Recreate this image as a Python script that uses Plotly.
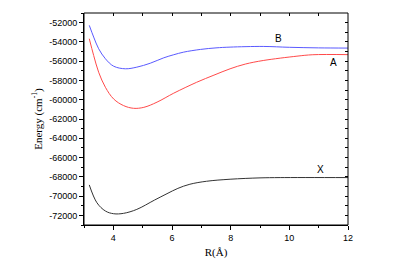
import plotly.graph_objects as go

# Data
r_B = [3.18, 3.33, 3.5, 3.73, 4.01, 4.41, 4.8, 5.26, 5.72, 6.06, 6.4, 6.97, 7.5, 7.98, 9.11, 10.0, 11.0, 12.0]
e_B = [-52280, -53500, -54710, -55750, -56520, -56790, -56620, -56210, -55650, -55330, -55060, -54780, -54620, -54540, -54470, -54560, -54620, -54640]

r_A = [3.18, 3.33, 3.5, 3.73, 4.01, 4.35, 4.69, 5.04, 5.49, 6.06, 6.84, 7.43, 7.98, 8.5, 9.11, 10.26, 10.8, 12.0]
e_A = [-53670, -55410, -57150, -58710, -59920, -60610, -60890, -60790, -60250, -59320, -58190, -57450, -56790, -56300, -55930, -55480, -55330, -55320]

r_X = [3.18, 3.44, 3.73, 4.01, 4.35, 4.8, 5.4, 5.83, 6.2, 6.61, 7.18, 7.98, 9.0, 9.69, 12.0]
e_X = [-68840, -70690, -71550, -71830, -71790, -71380, -70420, -69750, -69200, -68770, -68460, -68250, -68110, -68080, -68080]

labels = ["B", "A", "X"]
label_x = [9.63, 11.49, 11.05]
label_y = [-53670, -56100, -67280]

x_range = [3, 12]
y_range = [-73000, -51000]
x_ticks = [4, 6, 8, 10, 12]
x_ticktext = ["4", "6", "8", "10", "12"]
y_ticks = [-72000, -70000, -68000, -66000, -64000, -62000, -60000, -58000, -56000, -54000, -52000]
y_ticktext = ["-72000", "-70000", "-68000", "-66000", "-64000", "-62000", "-60000", "-58000", "-56000", "-54000", "-52000"]

line_kw = dict(width=1, shape="spline", smoothing=1)
fig = go.Figure()
fig.add_trace(go.Scatter(x=r_B, y=e_B, mode="lines", line=dict(color="#5a5aff", **line_kw), showlegend=False))
fig.add_trace(go.Scatter(x=r_A, y=e_A, mode="lines", line=dict(color="#ff4a4a", **line_kw), showlegend=False))
fig.add_trace(go.Scatter(x=r_X, y=e_X, mode="lines", line=dict(color="#333333", **line_kw), showlegend=False,
                         xaxis="x2", yaxis="y2"))

for t, xx, yy in zip(labels, label_x, label_y):
    fig.add_annotation(x=xx, y=yy, text=t, showarrow=False,
                       font=dict(family="Liberation Sans", size=10, color="black"))

# plot frame
fig.add_shape(type="rect", xref="paper", yref="paper", x0=0, x1=1, y0=0, y1=1,
              line=dict(color="black", width=1), layer="above")

tickfont = dict(family="Liberation Sans", size=9, color="black")
titlefont = dict(family="Liberation Serif", size=11, color="black")

fig.update_layout(
    width=415, height=268,
    margin=dict(l=84, r=67, t=13, b=43),
    paper_bgcolor="white", plot_bgcolor="white",
    xaxis=dict(range=x_range, tickmode="array", tickvals=x_ticks, ticktext=x_ticktext,
               ticks="outside", ticklen=4, tickwidth=1,
               tickcolor="black", showline=True, linecolor="black", linewidth=1,
               showgrid=False, zeroline=False, tickfont=tickfont,
               minor=dict(dtick=1, tick0=0, ticks="outside", ticklen=2, tickcolor="black"),
               title=dict(text="R(Å)", font=titlefont, standoff=6)),
    yaxis=dict(range=y_range, tickmode="array", tickvals=y_ticks, ticktext=y_ticktext,
               ticks="outside", ticklen=4, tickwidth=1,
               tickcolor="black", showline=True, linecolor="black", linewidth=1,
               showgrid=False, zeroline=False, tickfont=tickfont,
               minor=dict(dtick=1000, tick0=0, ticks="outside", ticklen=2, tickcolor="black"),
               title=dict(text="Energy (cm<sup>-1</sup>)", font=titlefont, standoff=4)),
    xaxis2=dict(overlaying="x", anchor="y2", side="top", range=x_range, dtick=1, tick0=0, ticks="inside",
                ticklen=3, tickcolor="black", showline=False,
                showticklabels=False, showgrid=False, zeroline=False),
    yaxis2=dict(overlaying="y", anchor="x2", side="right", range=y_range, dtick=1000, tick0=0, ticks="inside",
                ticklen=3, tickcolor="black", showline=False,
                showticklabels=False, showgrid=False, zeroline=False),
)

fig.write_html("out.html", config={"displayModeBar": False},
               post_script="document.body.style.margin='0';")
